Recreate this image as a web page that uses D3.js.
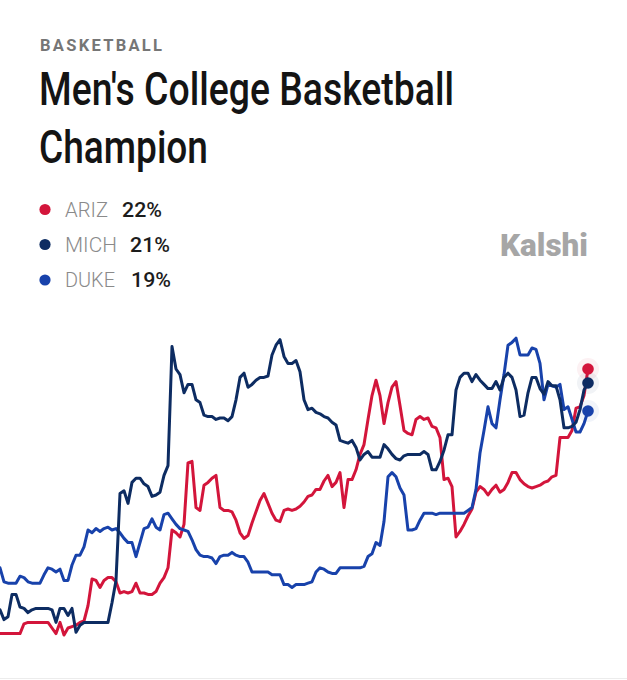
<!DOCTYPE html>
<html>
<head>
<meta charset="utf-8">
<script src="https://cdn.jsdelivr.net/npm/d3@7"></script>
<style>
  html, body { margin: 0; padding: 0; background: #ffffff; }
  svg { display: block; }
</style>
</head>
<body>
<svg id="chart" width="627" height="680"></svg>
<script>
// ---- Data (implied probability, %) ----
const category = "BASKETBALL";
const titleLines = ["Men's College Basketball", "Champion"];
const teams = ["ARIZ", "MICH", "DUKE"];
const latest = [22, 21, 19];
const brand = "Kalshi";

const ariz = [
  3.1,3.1,3.1,3.1,3.1,3.1,3.8,3.9,3.9,3.9,
  3.9,3.9,3.9,3.5,3.1,3.9,3.0,3.5,3.6,3.7,
  3.9,4.0,5.1,7.0,6.9,6.4,6.9,7.1,7.1,6.8,
  6.0,6.1,6.0,6.1,6.7,6.0,6.0,5.9,5.9,6.1,
  6.7,7.1,7.8,10.5,10.3,10.0,10.9,15.3,15.4,12.1,
  11.9,13.7,13.9,14.2,14.4,12.1,11.9,11.9,11.8,11.2,
  10.3,9.9,10.1,11.0,11.8,12.6,13.1,12.4,11.7,11.2,
  11.1,11.9,12.0,11.9,12.0,12.2,12.5,12.9,13.0,13.4,
  13.4,14.0,14.4,13.6,13.9,14.6,12.1,14.1,14.1,14.8,
  15.9,16.6,18.4,20.1,21.2,20.1,18.1,19.6,20.7,21.1,
  19.4,17.6,17.4,17.3,18.4,18.6,18.4,18.5,17.9,17.8,
  17.1,14.1,14.2,13.6,10.0,10.4,10.9,11.5,12.0,13.2,
  13.6,13.4,13.0,13.4,13.7,13.2,13.4,13.9,14.6,14.6,
  14.1,13.8,13.6,13.5,13.6,13.7,13.9,14.0,14.3,14.4,
  17.1,17.1,17.1,17.6,19.2,19.3,20.1,22.0
];
const mich = [
  4.8,4.1,4.3,5.9,5.9,5.0,4.9,4.6,4.8,4.9,
  4.9,4.9,4.9,4.8,3.9,4.9,4.9,4.4,4.9,3.2,
  3.7,3.9,3.9,3.9,3.9,3.9,3.9,3.9,5.3,6.9,
  13.1,13.3,12.4,13.9,14.2,14.2,13.8,13.6,12.9,13.0,
  13.2,14.4,15.1,23.6,22.0,21.6,20.3,20.9,20.9,19.8,
  19.6,18.7,18.6,18.6,18.4,18.5,18.5,18.3,18.6,19.8,
  21.4,21.7,20.7,20.9,21.2,21.4,21.4,21.5,23.0,23.7,
  24.1,22.9,22.4,22.4,22.6,21.8,19.8,19.1,19.2,18.9,
  18.8,18.6,18.5,18.2,18.0,16.9,16.8,16.7,16.9,16.4,
  15.5,15.9,16.1,15.7,15.7,15.7,16.6,16.3,15.9,15.6,
  15.5,15.8,15.9,15.9,15.9,15.9,16.1,15.9,14.8,14.8,
  15.4,16.2,17.3,17.3,20.5,21.4,21.7,21.7,21.1,21.6,
  21.2,20.9,20.6,20.6,21.1,20.5,21.4,21.7,21.4,20.5,
  18.6,18.7,20.3,21.4,21.4,20.6,20.2,21.1,20.8,20.8,
  19.8,17.8,17.8,17.9,18.2,19.1,20.5,21.0
];
const duke = [
  7.8,6.8,6.7,6.7,6.7,7.2,7.1,6.8,6.7,6.7,
  6.7,7.3,7.8,7.7,7.5,7.7,6.9,6.9,8.0,8.7,
  8.7,9.3,10.5,10.3,10.6,10.4,10.6,10.7,10.5,10.6,
  10.3,9.9,9.6,9.6,8.6,9.6,10.6,10.7,11.3,10.7,
  10.5,11.6,11.7,11.3,10.9,10.6,10.5,10.4,9.8,9.1,
  8.7,8.6,8.6,8.5,8.1,8.6,8.7,8.7,8.9,8.7,
  8.6,8.6,8.2,7.5,7.5,7.5,7.5,7.5,7.3,7.3,
  7.3,6.6,6.6,6.4,6.6,6.6,6.6,6.7,6.8,7.5,
  7.8,7.7,7.5,7.4,7.4,7.8,7.8,7.8,7.8,7.8,
  7.8,7.9,8.6,8.8,9.6,9.4,11.1,14.3,14.6,14.3,
  13.5,13.0,10.5,10.5,10.6,11.2,11.7,11.7,11.7,11.6,
  11.7,11.7,11.7,11.7,11.7,11.7,11.7,11.9,12.1,13.4,
  16.0,17.6,19.3,18.1,17.8,19.8,21.6,23.7,23.9,24.2,
  23.0,23.0,23.0,23.5,23.4,22.4,19.8,20.9,20.8,20.7,
  20.9,19.1,19.3,18.4,17.5,17.5,18.1,19.0
];
const seriesValues = [ariz, mich, duke];
const colors = ["#d3153b", "#0d2c62", "#1842ab"];

// ---- Layout ----
const svg = d3.select("#chart");
const W = 627, H = 680;

// header
svg.append("text")
  .attr("x", 40).attr("y", 50.7)
  .attr("font-family", "Roboto, 'Noto Sans', sans-serif")
  .attr("font-weight", 700).attr("font-size", 16.5)
  .attr("fill", "#767676")
  .attr("textLength", 122).attr("lengthAdjust", "spacing")
  .text(category);

const titleBase = [105, 162.7];
const titleWidths = [415, 169];
titleLines.forEach((t, i) => {
  svg.append("text")
    .attr("x", 39).attr("y", titleBase[i])
    .attr("font-family", "Roboto, 'Noto Sans', sans-serif")
    .attr("font-weight", 500).attr("font-size", 46)
    .attr("fill", "#141414")
    .attr("textLength", titleWidths[i]).attr("lengthAdjust", "spacingAndGlyphs")
    .text(t);
});

// legend
const legendY = [209.5, 244.5, 280];
const labelW = [43, 52, 50];
const valueX = [122, 130, 131];
teams.forEach((t, i) => {
  const g = svg.append("g");
  g.append("circle").attr("cx", 45).attr("cy", legendY[i]).attr("r", 5.6).attr("fill", colors[i]);
  g.append("text").attr("x", 65).attr("y", legendY[i] + 7)
    .attr("font-family", "Roboto, sans-serif").attr("font-weight", 300)
    .attr("font-size", 20).attr("fill", "#8a8a8a")
    .attr("textLength", labelW[i]).attr("lengthAdjust", "spacingAndGlyphs")
    .text(t);
  g.append("text").attr("x", valueX[i]).attr("y", legendY[i] + 7)
    .attr("font-family", "Roboto, sans-serif").attr("font-weight", 500)
    .attr("font-size", 20.5).attr("fill", "#1c1c1c")
    .attr("textLength", 40).attr("lengthAdjust", "spacingAndGlyphs")
    .text(latest[i] + "%");
});

// brand
svg.append("text")
  .attr("x", 500).attr("y", 255.5)
  .attr("font-family", "Roboto, sans-serif")
  .attr("font-weight", 900).attr("font-size", 32)
  .attr("fill", "#a6a6a6")
  .attr("textLength", 88).attr("lengthAdjust", "spacingAndGlyphs")
  .text(brand);

// chart
const n = ariz.length;
const x = d3.scaleLinear().domain([0, n - 1]).range([0, 588]);
const y = d3.scaleLinear().domain([0, 25]).range([677, 327]);

svg.append("line").attr("x1", 0).attr("x2", W).attr("y1", 678.5).attr("y2", 678.5)
  .attr("stroke", "#ececec").attr("stroke-width", 1);

const line = d3.line().x((d, i) => x(i)).y(d => y(d)).curve(d3.curveLinear);

const drawOrder = [0, 2, 1];
drawOrder.forEach(k => {
  svg.append("path").datum(seriesValues[k])
    .attr("d", line)
    .attr("fill", "none")
    .attr("stroke", colors[k])
    .attr("stroke-width", 3)
    .attr("stroke-linejoin", "round")
    .attr("stroke-linecap", "round");
});

// end dots
seriesValues.forEach((s, k) => {
  svg.append("circle").attr("cx", x(n - 1)).attr("cy", y(s[n - 1]))
    .attr("r", 11).attr("fill", colors[k]).attr("opacity", 0.06);
});
seriesValues.forEach((s, k) => {
  svg.append("circle").attr("cx", x(n - 1)).attr("cy", y(s[n - 1]))
    .attr("r", 5.8).attr("fill", colors[k]);
});
</script>
</body>
</html>
